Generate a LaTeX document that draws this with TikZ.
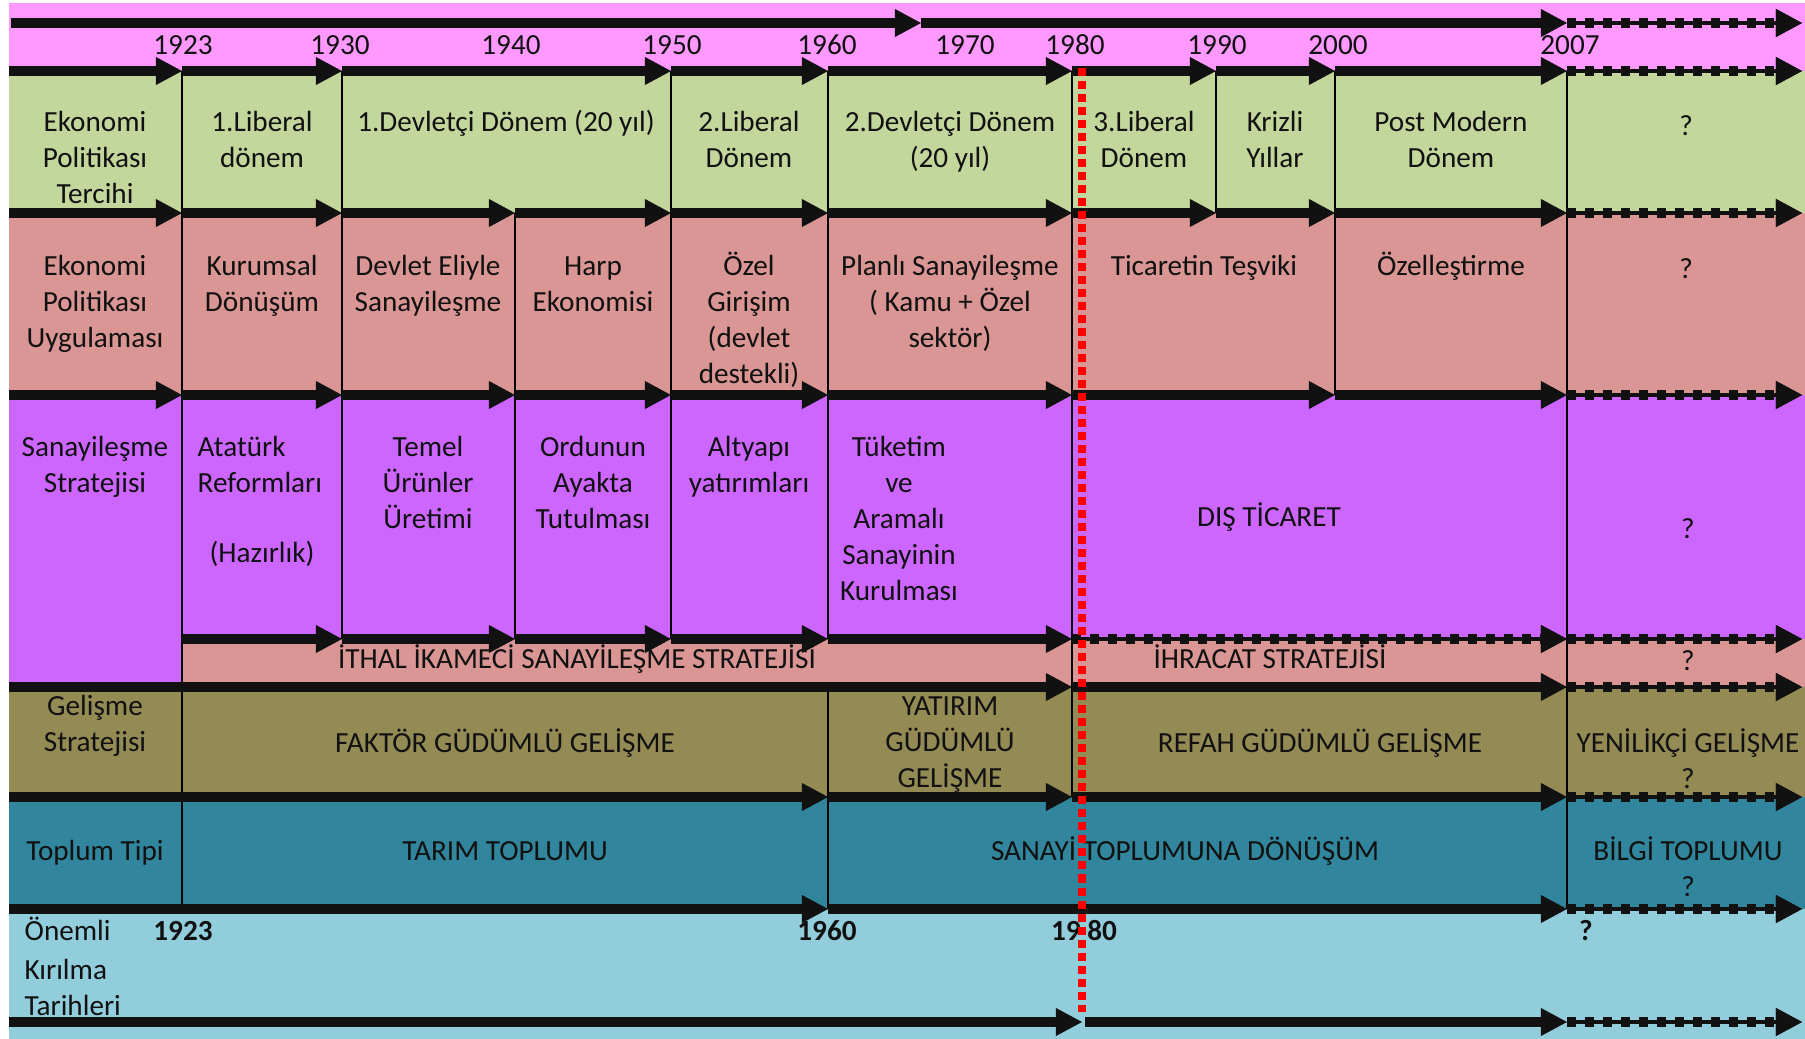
\documentclass[tikz,border=0pt]{standalone}
\usepackage{fontspec}
\setmainfont{Carlito}
\usepackage{tikz}
\usetikzlibrary{arrows.meta}
\definecolor{yearpink}{HTML}{FF99FF}
\definecolor{leaf}{HTML}{C3D69B}
\definecolor{rosy}{HTML}{D99694}
\definecolor{lilac}{HTML}{CC66FF}
\definecolor{khaki}{HTML}{948A54}
\definecolor{petrol}{HTML}{31859C}
\definecolor{skyband}{HTML}{92CDDC}
\definecolor{ink}{HTML}{111111}
\newcommand{\tstrut}{\rule{0pt}{8.5pt}}
\tikzset{
  txt/.style={font=\fontsize{8.3}{10.2}\selectfont, text=ink, align=center, inner sep=0pt, anchor=north},
  sep/.style={draw=black, line width=0.6pt},
  track/.style={-{Triangle[length=2.6mm, width=2.8mm, line width=0pt]}, draw=ink, line width=1mm},
  tbd/.style={track, dash pattern=on 0.09cm off 0.09cm,
              preaction={draw=ink, line width=0.35mm, solid}},
  cut/.style={draw=red, line width=0.8mm, dash pattern=on 0.08cm off 0.05cm}
}

\begin{document}
\begin{tikzpicture}[x=0.01cm, y=-0.01cm]
  \useasboundingbox (0,0) rectangle (1805,1039);

  % bands
  \fill[yearpink] (9,3) rectangle (1805,71);
  \fill[leaf] (9,71) rectangle (1805,213);
  \fill[rosy] (9,213) rectangle (1805,395);
  \fill[lilac] (9,395) rectangle (1805,639);
  \fill[lilac] (9,639) rectangle (182,687);
  \fill[rosy] (182,639) rectangle (1805,687);
  \fill[khaki] (9,687) rectangle (1805,797);
  \fill[petrol] (9,797) rectangle (1805,909);
  \fill[skyband] (9,909) rectangle (1805,1039);

  \foreach \x/\ya/\yb in {182/71/909, 342/71/639, 515/213/639, 671/71/639, 828/71/639,
                          828/687/909, 1072/71/797, 1216/71/213, 1335/71/395, 1567/71/909}
    \draw[sep] (\x,\ya) -- (\x,\yb);

  \newcommand{\celltext}[4]{\node[txt] (#1) at (#2,#3-22) {\tstrut#4};}

  % years
  \foreach \x/\yr in {183/1923,340/1930,511/1940,672/1950,827/1960,965/1970,
                      1075/1980,1217/1990,1338/2000,1570/2007}
    \node[txt] (y\yr) at (\x,24) {\tstrut\yr};

  % tercih
  \celltext{tercih}{95}{123}{Ekonomi\\Politikası\\Tercihi}
  \celltext{libA}{262}{123}{1.Liberal\\dönem}
  \celltext{devA}{506}{123}{1.Devletçi Dönem (20 yıl)}
  \celltext{libB}{749}{123}{2.Liberal\\Dönem}
  \celltext{devB}{950}{123}{2.Devletçi Dönem\\(20 yıl)}
  \celltext{libC}{1144}{123}{3.Liberal\\Dönem}
  \celltext{kriz}{1275}{123}{Krizli\\Yıllar}
  \celltext{postmod}{1451}{123}{Post Modern\\Dönem}
  \celltext{tercihq}{1686}{127}{?}

  % uygulama
  \celltext{uygula}{95}{267}{Ekonomi\\Politikası\\Uygulaması}
  \celltext{kurum}{262}{267}{Kurumsal\\Dönüşüm}
  \celltext{eliyle}{428}{267}{Devlet Eliyle\\Sanayileşme}
  \celltext{harp}{593}{267}{Harp\\Ekonomisi}
  \celltext{ozel}{749}{267}{Özel\\Girişim\\(devlet\\destekli)}
  \celltext{planli}{950}{267}{Planlı Sanayileşme\\( Kamu + Özel\\sektör)}
  \celltext{tesvik}{1204}{267}{Ticaretin Teşviki}
  \celltext{ozellestirme}{1451}{267}{Özelleştirme}
  \celltext{uygulaq}{1686}{270}{?}

  % sanayilesme
  \celltext{strateji}{95}{448}{Sanayileşme\\Stratejisi}
  \node[txt, anchor=north west, align=left] (reform) at (197,426) {\tstrut Atatürk\\Reformları};
  \celltext{hazirlik}{262}{554}{(Hazırlık)}
  \celltext{temel}{428}{448}{Temel\\Ürünler\\Üretimi}
  \celltext{ordu}{593}{448}{Ordunun\\Ayakta\\Tutulması}
  \celltext{altyapi}{749}{448}{Altyapı\\yatırımları}
  \celltext{tuketim}{899}{448}{Tüketim\\ve\\Aramalı\\Sanayinin\\Kurulması}
  \celltext{dis}{1269}{518}{DIŞ TİCARET}
  \celltext{stratejiq}{1688}{530}{?}
  \celltext{ithal}{577}{660}{İTHAL İKAMECİ SANAYİLEŞME STRATEJİSİ}
  \celltext{ihracat}{1270}{660}{İHRACAT STRATEJİSİ}
  \celltext{ihracatq}{1688}{662}{?}

  % gelisme
  \celltext{gelisme}{95}{707}{Gelişme\\Stratejisi}
  \celltext{faktor}{505}{744}{FAKTÖR GÜDÜMLÜ GELİŞME}
  \celltext{yatirim}{950}{707}{YATIRIM\\GÜDÜMLÜ\\GELİŞME}
  \celltext{refah}{1320}{744}{REFAH GÜDÜMLÜ GELİŞME}
  \celltext{yenilik}{1688}{744}{YENİLİKÇİ GELİŞME\\?}

  % toplum
  \celltext{toplum}{95}{852}{Toplum Tipi}
  \celltext{tarim}{505}{852}{TARIM TOPLUMU}
  \celltext{sanayi}{1185}{852}{SANAYİ TOPLUMUNA DÖNÜŞÜM}
  \celltext{bilgi}{1688}{852}{BİLGİ TOPLUMU\\?}

  % kirilma
  \node[txt, anchor=north west, align=left] (kirilma) at (24,910) {\tstrut Önemli\\[1pt]Kırılma\\Tarihleri};
  \foreach \x/\yr/\nm in {183/1923/kA, 827/1960/kB, 1084/19 80/kC, 1586/?/kD}
    \node[txt, font=\fontsize{8.3}{10.2}\selectfont\bfseries] (\nm) at (\x,910) {\tstrut\yr};

  % arrows
  \foreach \a/\b in {11/921, 921/1567} \draw[track] (\a,23) -- (\b,23);
  \foreach \a/\b in {9/182, 182/342, 342/671, 671/828, 828/1072, 1072/1216, 1216/1335, 1335/1567}
    \draw[track] (\a,71) -- (\b,71);
  \foreach \a/\b in {9/182, 182/342, 342/515, 515/671, 671/828, 828/1072, 1072/1216, 1216/1335, 1335/1567}
    \draw[track] (\a,213) -- (\b,213);
  \foreach \a/\b in {9/182, 182/342, 342/515, 515/671, 671/828, 828/1072, 1072/1335, 1335/1567}
    \draw[track] (\a,395) -- (\b,395);
  \foreach \a/\b in {182/342, 342/515, 515/671, 671/828, 828/1072}
    \draw[track] (\a,639) -- (\b,639);
  \draw[tbd] (1072,639) -- (1567,639);
  \foreach \a/\b in {9/1072, 1072/1567} \draw[track] (\a,687) -- (\b,687);
  \foreach \a/\b in {9/828, 828/1072, 1072/1567} \draw[track] (\a,797) -- (\b,797);
  \foreach \a/\b in {9/828, 828/1567} \draw[track] (\a,909) -- (\b,909);
  \foreach \a/\b in {9/1082, 1085/1567} \draw[track] (\a,1022) -- (\b,1022);
  \foreach \y in {23,71,213,395,639,687,797,909,1022}
    \draw[tbd] (1567,\y) -- (1802,\y);

  \draw[cut] (1082,68) -- (1082,1012);
\end{tikzpicture}
\end{document}
